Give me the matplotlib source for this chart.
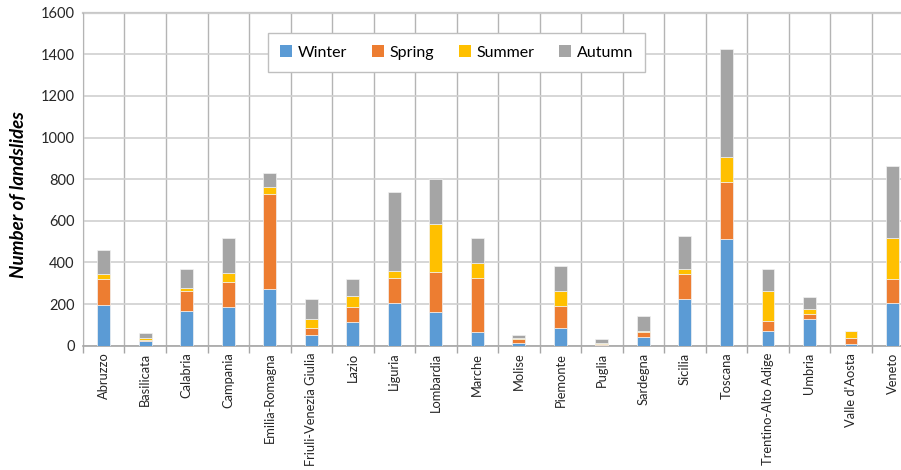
import matplotlib
matplotlib.use("Agg")
import matplotlib.pyplot as plt
import numpy as np
from matplotlib.patches import Patch

regions = ["Abruzzo", "Basilicata", "Calabria", "Campania", "Emilia-Romagna",
           "Friuli-Venezia Giulia", "Lazio", "Liguria", "Lombardia", "Marche",
           "Molise", "Piemonte", "Puglia", "Sardegna", "Sicilia", "Toscana",
           "Trentino-Alto Adige", "Umbria", "Valle d'Aosta", "Veneto"]

winter = [195, 21, 168, 184, 272, 50, 112, 207, 162, 67, 11, 84, 3, 42, 226, 511, 71, 127, 10, 204]
spring = [124, 8, 93, 120, 457, 36, 74, 120, 192, 260, 20, 107, 5, 25, 120, 274, 49, 24, 28, 115]
summer = [24, 9, 18, 47, 32, 42, 54, 32, 232, 69, 4, 72, 6, 4, 23, 122, 141, 25, 31, 197]
autumn = [115, 22, 88, 168, 70, 95, 82, 381, 216, 123, 15, 120, 20, 70, 158, 520, 106, 59, 1, 349]

seasons = ["Winter", "Spring", "Summer", "Autumn"]
colors = ["#5B9BD5", "#ED7D31", "#FFC000", "#A5A5A5"]

plt.rcParams["font.family"] = ["Lato", "DejaVu Sans"]

fig = plt.figure(figsize=(9.01, 4.70), dpi=100)
ax = fig.add_axes([0.0921, 0.2645, 0.9215, 0.7085])

x = np.arange(len(regions))
bottom = np.zeros(len(regions))
for vals, col in zip([winter, spring, summer, autumn], colors):
    ax.bar(x, vals, width=0.31, bottom=bottom, color=col,
           edgecolor="#f2f2f2", linewidth=0.5, zorder=3)
    bottom += np.array(vals)

ax.set_xlim(-0.5, len(regions) - 0.5)
ax.set_ylim(0, 1600)
ax.set_yticks(np.arange(0, 1601, 200))
ax.tick_params(axis="y", length=0, labelsize=10.5, colors="#262626", pad=6)

# category boundaries carry the vertical grid lines and tick marks
ax.set_xticks(x)
ax.set_xticklabels(regions, rotation=90, fontsize=9.3, color="#262626")
ax.tick_params(axis="x", which="major", length=0, pad=5)
ax.set_xticks(np.arange(-0.5, len(regions)), minor=True)
ax.tick_params(axis="x", which="minor", length=5, color="#A6A6A6", width=1)

ax.yaxis.grid(True, color="#D0D0D0", linewidth=1.2, zorder=0)
ax.xaxis.grid(True, which="minor", color="#B4B4B4", linewidth=1, zorder=0)
ax.xaxis.grid(False, which="major")

for side in ["top", "right"]:
    ax.spines[side].set_visible(False)
ax.spines["left"].set_color("#B4B4B4")
ax.spines["bottom"].set_color("#A6A6A6")
ax.spines["bottom"].set_linewidth(1.2)
ax.axhline(1600, color="#C8C8C8", linewidth=1.6, zorder=1, clip_on=False)

ax.set_ylabel("Number of landslides", fontsize=13.5, fontweight="bold",
              fontstyle="italic", color="black")
ax.yaxis.set_label_coords(-0.068, 0.4525)

handles = [Patch(facecolor=c, edgecolor="none", label=s) for s, c in zip(seasons, colors)]
leg = ax.legend(handles=handles, loc="upper left", ncol=4,
                bbox_to_anchor=(0.2233, 0.938), fontsize=11.5, frameon=True,
                fancybox=False, edgecolor="#BFBFBF", framealpha=1,
                handlelength=0.75, handleheight=0.75, handletextpad=0.35,
                columnspacing=1.55, borderpad=0.75, borderaxespad=0)
leg.get_frame().set_linewidth(1.0)

fig.savefig("out.png", dpi=100)
